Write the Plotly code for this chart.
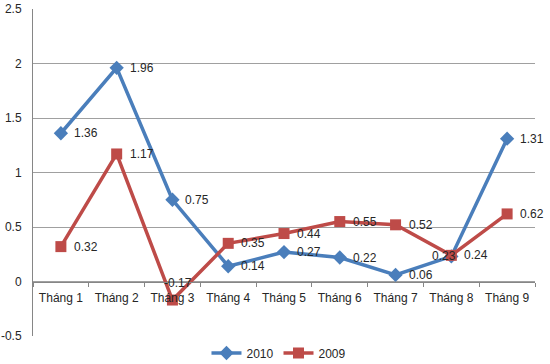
import plotly.graph_objects as go

categories = ["Tháng 1", "Tháng 2", "Tháng 3", "Tháng 4", "Tháng 5",
              "Tháng 6", "Tháng 7", "Tháng 8", "Tháng 9"]
values_2010 = [1.36, 1.96, 0.75, 0.14, 0.27, 0.22, 0.06, 0.23, 1.31]
values_2009 = [0.32, 1.17, -0.17, 0.35, 0.44, 0.55, 0.52, 0.24, 0.62]
y_ticks = [-0.5, 0, 0.5, 1, 1.5, 2, 2.5]

blue = "#4A7EBB"
red = "#BE4B48"
font = "Liberation Sans, Arial, sans-serif"
txt_color = "#262626"

fig = go.Figure()
fig.add_trace(go.Scatter(
    x=categories, y=values_2010, name="2010", mode="lines+markers",
    line=dict(color=blue, width=3.5),
    marker=dict(symbol="diamond", size=11, color=blue),
))
fig.add_trace(go.Scatter(
    x=categories, y=values_2009, name="2009", mode="lines+markers",
    line=dict(color=red, width=3.5),
    marker=dict(symbol="square", size=11, color=red),
))

annotations = []
for i, (c, v) in enumerate(zip(categories, values_2010)):
    a = dict(x=c, y=v, text=f"{v:g}", showarrow=False, xanchor="left",
             xshift=11, yanchor="middle", font=dict(family=font, size=12, color=txt_color))
    if i == 7:
        a.update(xanchor="center", xshift=-7)
    annotations.append(a)
for i, (c, v) in enumerate(zip(categories, values_2009)):
    a = dict(x=c, y=v, text=f"{v:g}", showarrow=False, xanchor="left",
             xshift=11, yanchor="middle", font=dict(family=font, size=12, color=txt_color))
    if i == 2:
        a.update(xanchor="center", xshift=6, yshift=17)
    annotations.append(a)

fig.update_layout(
    width=550, height=364,
    margin=dict(l=33, r=15, t=9, b=28, autoexpand=False),
    paper_bgcolor="white", plot_bgcolor="white",
    font=dict(family=font, size=12, color=txt_color),
    showlegend=True,
    legend=dict(orientation="h", x=0.49, xanchor="center", y=-0.052, yanchor="middle",
                font=dict(size=12), itemwidth=30, bgcolor="rgba(0,0,0,0)"),
    annotations=annotations,
    xaxis=dict(
        type="category", anchor="free", position=1/6,
        showline=True, linecolor="#868686", linewidth=1,
        ticks="outside", ticklen=4, tickcolor="#868686", tickson="boundaries",
        showgrid=False, zeroline=False, range=[-0.5, 8.5],
        tickfont=dict(size=12, color=txt_color), automargin=False,
        ticklabelstandoff=5,
    ),
    yaxis=dict(
        range=[-0.5, 2.5], tickvals=y_ticks, ticktext=[f"{v:g}" for v in y_ticks],
        showgrid=True, gridcolor="#A0A0A0", gridwidth=1,
        showline=True, linecolor="#868686", linewidth=1,
        zeroline=False, ticks="", ticklabelstandoff=8,
        tickfont=dict(size=12, color=txt_color), automargin=False,
    ),
)

fig.write_html("out.html", config={"displayModeBar": False},
               post_script="document.body.style.margin='0px';document.body.style.overflow='hidden';")
